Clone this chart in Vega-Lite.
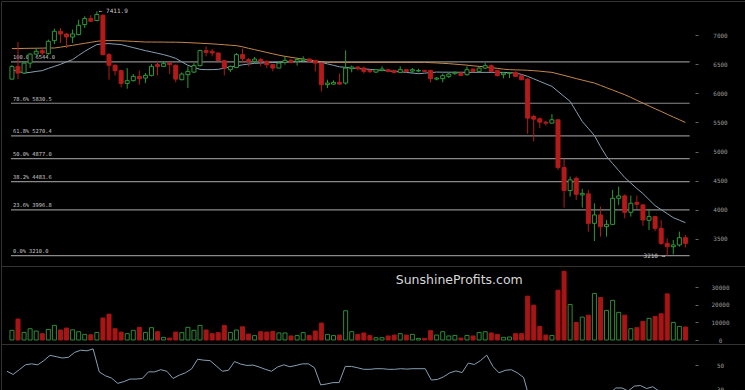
{
"$schema":"https://vega.github.io/schema/vega-lite/v6.json",
"background":"#000000",
"padding":0,
"spacing":0,
"bounds":"flush",
"config":{"view":{"stroke":"#333333","strokeWidth":1},
"axis":{"domain":false,"grid":false,"tickColor":"#666666","tickSize":3,"labelColor":"#9a9a9a","labelFont":"DejaVu Sans Mono","labelFontSize":6,"labelAlign":"center","labelBaseline":"middle","labelPadding":22,"labelOverlap":false,"labelBound":false,"labelSeparation":0,"labelFlush":false,"format":"d","title":null}},
"data":{"values":[
{"i":0,"o":6246,"h":6483,"l":6241,"c":6465,"v":5500,"m1":6409,"m2":6771,"r":45.2},
{"i":1,"o":6465,"h":6884,"l":6246,"c":6350,"v":11900,"m1":6379,"m2":6772,"r":42.6},
{"i":2,"o":6350,"h":6552,"l":6345,"c":6522,"v":4300,"m1":6350,"m2":6774,"r":46.5},
{"i":3,"o":6522,"h":6690,"l":6436,"c":6677,"v":6400,"m1":6362,"m2":6776,"r":50.5},
{"i":4,"o":6677,"h":6781,"l":6667,"c":6724,"v":5100,"m1":6379,"m2":6777,"r":51.3},
{"i":5,"o":6736,"h":6781,"l":6655,"c":6695,"v":3600,"m1":6391,"m2":6779,"r":50.5},
{"i":6,"o":6684,"h":6926,"l":6667,"c":6896,"v":6000,"m1":6431,"m2":6781,"r":54},
{"i":7,"o":6908,"h":7115,"l":6850,"c":7069,"v":8300,"m1":6465,"m2":6781,"r":58.3},
{"i":8,"o":7069,"h":7126,"l":6867,"c":7022,"v":5700,"m1":6500,"m2":6796,"r":57.2},
{"i":9,"o":7022,"h":7039,"l":6781,"c":6971,"v":6800,"m1":6543,"m2":6812,"r":56.1},
{"i":10,"o":6971,"h":7098,"l":6867,"c":7022,"v":5800,"m1":6581,"m2":6827,"r":56.7},
{"i":11,"o":7012,"h":7270,"l":7000,"c":7172,"v":4700,"m1":6655,"m2":6845,"r":60.7},
{"i":12,"o":7184,"h":7327,"l":7126,"c":7288,"v":3200,"m1":6724,"m2":6862,"r":62.5},
{"i":13,"o":7288,"h":7345,"l":7229,"c":7241,"v":3000,"m1":6784,"m2":6879,"r":62},
{"i":14,"o":7253,"h":7411.9,"l":7241,"c":7357,"v":4300,"m1":6840,"m2":6896,"r":63.6},
{"i":15,"o":7345,"h":7362,"l":6655,"c":6667,"v":12500,"m1":6853,"m2":6908,"r":44.7},
{"i":16,"o":6667,"h":6695,"l":6236,"c":6483,"v":14700,"m1":6857,"m2":6908,"r":41.5},
{"i":17,"o":6483,"h":6505,"l":6310,"c":6391,"v":6400,"m1":6848,"m2":6908,"r":39.6},
{"i":18,"o":6391,"h":6408,"l":6103,"c":6172,"v":4500,"m1":6840,"m2":6905,"r":35.3},
{"i":19,"o":6172,"h":6436,"l":6081,"c":6219,"v":3600,"m1":6814,"m2":6900,"r":36.7},
{"i":20,"o":6219,"h":6333,"l":6207,"c":6293,"v":5500,"m1":6788,"m2":6895,"r":38.8},
{"i":21,"o":6293,"h":6391,"l":6150,"c":6253,"v":7200,"m1":6762,"m2":6890,"r":38.8},
{"i":22,"o":6264,"h":6350,"l":6178,"c":6310,"v":4300,"m1":6736,"m2":6884,"r":39.3},
{"i":23,"o":6310,"h":6505,"l":6293,"c":6465,"v":7000,"m1":6714,"m2":6884,"r":44.7},
{"i":24,"o":6495,"h":6564,"l":6310,"c":6465,"v":4700,"m1":6690,"m2":6883,"r":44.7},
{"i":25,"o":6465,"h":6552,"l":6453,"c":6512,"v":1500,"m1":6667,"m2":6883,"r":46.5},
{"i":26,"o":6522,"h":6530,"l":6333,"c":6495,"v":1100,"m1":6638,"m2":6881,"r":45.2},
{"i":27,"o":6483,"h":6500,"l":6190,"c":6246,"v":4500,"m1":6603,"m2":6881,"r":39.3},
{"i":28,"o":6236,"h":6362,"l":6224,"c":6333,"v":4200,"m1":6543,"m2":6879,"r":42},
{"i":29,"o":6322,"h":6465,"l":6091,"c":6379,"v":7200,"m1":6483,"m2":6874,"r":43.9},
{"i":30,"o":6367,"h":6522,"l":6350,"c":6478,"v":5500,"m1":6448,"m2":6869,"r":47.1},
{"i":31,"o":6478,"h":6753,"l":6465,"c":6736,"v":8300,"m1":6414,"m2":6864,"r":55.1},
{"i":32,"o":6736,"h":6810,"l":6638,"c":6707,"v":5700,"m1":6409,"m2":6858,"r":54.3},
{"i":33,"o":6724,"h":6764,"l":6638,"c":6695,"v":3600,"m1":6409,"m2":6852,"r":54},
{"i":34,"o":6695,"h":6705,"l":6552,"c":6564,"v":4200,"m1":6414,"m2":6845,"r":49.7},
{"i":35,"o":6564,"h":6575,"l":6310,"c":6436,"v":8300,"m1":6434,"m2":6838,"r":45.2},
{"i":36,"o":6408,"h":6480,"l":6367,"c":6465,"v":4300,"m1":6457,"m2":6829,"r":46},
{"i":37,"o":6448,"h":6695,"l":6436,"c":6667,"v":5700,"m1":6474,"m2":6822,"r":53.2},
{"i":38,"o":6667,"h":6771,"l":6522,"c":6598,"v":7500,"m1":6491,"m2":6802,"r":51.1},
{"i":39,"o":6581,"h":6608,"l":6465,"c":6552,"v":3400,"m1":6505,"m2":6776,"r":50},
{"i":40,"o":6552,"h":6626,"l":6512,"c":6591,"v":2500,"m1":6517,"m2":6753,"r":50.3},
{"i":41,"o":6581,"h":6608,"l":6465,"c":6552,"v":4700,"m1":6522,"m2":6729,"r":48.7},
{"i":42,"o":6552,"h":6569,"l":6436,"c":6495,"v":4500,"m1":6526,"m2":6705,"r":46.8},
{"i":43,"o":6495,"h":6500,"l":6379,"c":6436,"v":4900,"m1":6531,"m2":6681,"r":45.2},
{"i":44,"o":6436,"h":6552,"l":6436,"c":6522,"v":4000,"m1":6534,"m2":6658,"r":48.7},
{"i":45,"o":6534,"h":6626,"l":6495,"c":6569,"v":4000,"m1":6540,"m2":6638,"r":50.5},
{"i":46,"o":6569,"h":6591,"l":6517,"c":6534,"v":2300,"m1":6543,"m2":6621,"r":48.9},
{"i":47,"o":6552,"h":6608,"l":6478,"c":6581,"v":2500,"m1":6548,"m2":6605,"r":50},
{"i":48,"o":6569,"h":6638,"l":6534,"c":6591,"v":4200,"m1":6552,"m2":6590,"r":51.3},
{"i":49,"o":6591,"h":6600,"l":6534,"c":6552,"v":2500,"m1":6546,"m2":6574,"r":51.3},
{"i":50,"o":6569,"h":6575,"l":6379,"c":6522,"v":5100,"m1":6540,"m2":6559,"r":48.1},
{"i":51,"o":6522,"h":6530,"l":6034,"c":6150,"v":9600,"m1":6534,"m2":6546,"r":34},
{"i":52,"o":6150,"h":6236,"l":6091,"c":6178,"v":3200,"m1":6508,"m2":6534,"r":34.8},
{"i":53,"o":6160,"h":6224,"l":6150,"c":6190,"v":2500,"m1":6483,"m2":6534,"r":35.9},
{"i":54,"o":6190,"h":6340,"l":6150,"c":6160,"v":2800,"m1":6457,"m2":6534,"r":35.9},
{"i":55,"o":6178,"h":6741,"l":6150,"c":6436,"v":16600,"m1":6448,"m2":6534,"r":49.2},
{"i":56,"o":6426,"h":6477,"l":6362,"c":6453,"v":4700,"m1":6436,"m2":6534,"r":49.2},
{"i":57,"o":6453,"h":6470,"l":6396,"c":6426,"v":3200,"m1":6427,"m2":6534,"r":48.1},
{"i":58,"o":6436,"h":6465,"l":6340,"c":6379,"v":4000,"m1":6421,"m2":6534,"r":46.8},
{"i":59,"o":6396,"h":6405,"l":6350,"c":6374,"v":2500,"m1":6414,"m2":6534,"r":46.8},
{"i":60,"o":6367,"h":6419,"l":6350,"c":6408,"v":1300,"m1":6405,"m2":6534,"r":47.3},
{"i":61,"o":6396,"h":6465,"l":6379,"c":6419,"v":1300,"m1":6396,"m2":6534,"r":47.3},
{"i":62,"o":6408,"h":6412,"l":6362,"c":6379,"v":2300,"m1":6388,"m2":6534,"r":46.8},
{"i":63,"o":6396,"h":6400,"l":6340,"c":6362,"v":2800,"m1":6379,"m2":6534,"r":46.8},
{"i":64,"o":6362,"h":6465,"l":6350,"c":6408,"v":3600,"m1":6371,"m2":6534,"r":47.3},
{"i":65,"o":6408,"h":6412,"l":6362,"c":6379,"v":2800,"m1":6362,"m2":6534,"r":47},
{"i":66,"o":6385,"h":6436,"l":6350,"c":6408,"v":3200,"m1":6350,"m2":6534,"r":47.3},
{"i":67,"o":6385,"h":6425,"l":6362,"c":6396,"v":900,"m1":6340,"m2":6534,"r":47.3},
{"i":68,"o":6396,"h":6405,"l":6370,"c":6379,"v":900,"m1":6348,"m2":6534,"r":47.3},
{"i":69,"o":6396,"h":6408,"l":6190,"c":6253,"v":5300,"m1":6359,"m2":6529,"r":38},
{"i":70,"o":6246,"h":6281,"l":6224,"c":6264,"v":2800,"m1":6367,"m2":6524,"r":38.5},
{"i":71,"o":6253,"h":6340,"l":6190,"c":6305,"v":4700,"m1":6365,"m2":6517,"r":40.7},
{"i":72,"o":6293,"h":6350,"l":6264,"c":6333,"v":2300,"m1":6365,"m2":6512,"r":43.9},
{"i":73,"o":6340,"h":6380,"l":6322,"c":6362,"v":2600,"m1":6364,"m2":6503,"r":45.5},
{"i":74,"o":6350,"h":6360,"l":6305,"c":6310,"v":1100,"m1":6364,"m2":6495,"r":44.1},
{"i":75,"o":6322,"h":6465,"l":6305,"c":6408,"v":2600,"m1":6362,"m2":6486,"r":51.9},
{"i":76,"o":6419,"h":6425,"l":6362,"c":6379,"v":2300,"m1":6362,"m2":6474,"r":50.8},
{"i":77,"o":6379,"h":6453,"l":6362,"c":6436,"v":4300,"m1":6362,"m2":6465,"r":54},
{"i":78,"o":6436,"h":6522,"l":6419,"c":6477,"v":4700,"m1":6362,"m2":6457,"r":58.5},
{"i":79,"o":6477,"h":6495,"l":6370,"c":6379,"v":4000,"m1":6362,"m2":6443,"r":49.2},
{"i":80,"o":6396,"h":6405,"l":6293,"c":6305,"v":3200,"m1":6362,"m2":6431,"r":43.9},
{"i":81,"o":6322,"h":6360,"l":6258,"c":6350,"v":1500,"m1":6362,"m2":6417,"r":46},
{"i":82,"o":6345,"h":6362,"l":6264,"c":6355,"v":1700,"m1":6357,"m2":6409,"r":46.5},
{"i":83,"o":6362,"h":6380,"l":6281,"c":6293,"v":3600,"m1":6350,"m2":6405,"r":43.9},
{"i":84,"o":6305,"h":6320,"l":6224,"c":6236,"v":3600,"m1":6327,"m2":6402,"r":40.1},
{"i":85,"o":6246,"h":6264,"l":5305,"c":5574,"v":24900,"m1":6293,"m2":6398,"r":22},
{"i":86,"o":5603,"h":5633,"l":5172,"c":5557,"v":19800,"m1":6250,"m2":6391,"r":21},
{"i":87,"o":5564,"h":5586,"l":5402,"c":5505,"v":7700,"m1":6207,"m2":6383,"r":20},
{"i":88,"o":5505,"h":5529,"l":5448,"c":5488,"v":2800,"m1":6164,"m2":6372,"r":19},
{"i":89,"o":5488,"h":5643,"l":5480,"c":5546,"v":2600,"m1":6121,"m2":6362,"r":21},
{"i":90,"o":5546,"h":5550,"l":4685,"c":4724,"v":28300,"m1":6034,"m2":6336,"r":16},
{"i":91,"o":4724,"h":4874,"l":4035,"c":4328,"v":39000,"m1":5948,"m2":6310,"r":13},
{"i":92,"o":4328,"h":4569,"l":4224,"c":4512,"v":20200,"m1":5862,"m2":6283,"r":18},
{"i":93,"o":4540,"h":4569,"l":4167,"c":4264,"v":10000,"m1":5690,"m2":6255,"r":17},
{"i":94,"o":4254,"h":4357,"l":4035,"c":4281,"v":13000,"m1":5517,"m2":6229,"r":19},
{"i":95,"o":4271,"h":4340,"l":3621,"c":3764,"v":14100,"m1":5397,"m2":6203,"r":18},
{"i":96,"o":3764,"h":4109,"l":3460,"c":3909,"v":26400,"m1":5276,"m2":6178,"r":25},
{"i":97,"o":3909,"h":4052,"l":3535,"c":3707,"v":24200,"m1":5086,"m2":6138,"r":23},
{"i":98,"o":3707,"h":3822,"l":3535,"c":3747,"v":16800,"m1":4914,"m2":6098,"r":27},
{"i":99,"o":3747,"h":4340,"l":3740,"c":4195,"v":22500,"m1":4793,"m2":6059,"r":31.5},
{"i":100,"o":4195,"h":4397,"l":4081,"c":4236,"v":15700,"m1":4672,"m2":6017,"r":31.5},
{"i":101,"o":4236,"h":4264,"l":3850,"c":3954,"v":14100,"m1":4552,"m2":5978,"r":29},
{"i":102,"o":3954,"h":4241,"l":3880,"c":4109,"v":6400,"m1":4457,"m2":5931,"r":33},
{"i":103,"o":4126,"h":4241,"l":4012,"c":4092,"v":7000,"m1":4362,"m2":5881,"r":33.5},
{"i":104,"o":4081,"h":4092,"l":3724,"c":3822,"v":10600,"m1":4276,"m2":5833,"r":31},
{"i":105,"o":3816,"h":4012,"l":3650,"c":3880,"v":12300,"m1":4172,"m2":5784,"r":32.5},
{"i":106,"o":3880,"h":3890,"l":3633,"c":3678,"v":13400,"m1":4069,"m2":5736,"r":29},
{"i":107,"o":3678,"h":3822,"l":3392,"c":3419,"v":14900,"m1":4000,"m2":5690,"r":26},
{"i":108,"o":3419,"h":3505,"l":3210,"c":3362,"v":26200,"m1":3931,"m2":5641,"r":23},
{"i":109,"o":3362,"h":3478,"l":3230,"c":3392,"v":10000,"m1":3862,"m2":5593,"r":25},
{"i":110,"o":3392,"h":3621,"l":3362,"c":3517,"v":7700,"m1":3819,"m2":5547,"r":28},
{"i":111,"o":3517,"h":3564,"l":3350,"c":3419,"v":7400,"m1":3776,"m2":5500,"r":26}
]},
"vconcat":[
{"width":745,"height":265,
"layer":[
{"data":{"values":[{"p":6544.0,"t":"100.0% 6544.0"},{"p":5830.5,"t":"78.6% 5830.5"},{"p":5270.4,"t":"61.8% 5270.4"},{"p":4877.0,"t":"50.0% 4877.0"},{"p":4483.6,"t":"38.2% 4483.6"},{"p":3996.8,"t":"23.6% 3996.8"},{"p":3210.0,"t":"0.0% 3210.0"}]},
"mark":{"type":"rule","color":"#8a8a8a","strokeWidth":1.2},
"encoding":{"x":{"datum":-0.16,"type":"quantitative","scale":{"domain":[-0.976,120.16],"nice":false,"zero":false},"axis":null},
"x2":{"datum":111.7},
"y":{"field":"p","type":"quantitative","scale":{"domain":[3030,7590],"nice":false,"zero":false},"axis":{"orient":"right","offset":-51,"values":[3500,4000,4500,5000,5500,6000,6500,7000]}}}},
{"data":{"values":[{"p":6544.0,"t":"100.0% 6544.0"},{"p":5830.5,"t":"78.6% 5830.5"},{"p":5270.4,"t":"61.8% 5270.4"},{"p":4877.0,"t":"50.0% 4877.0"},{"p":4483.6,"t":"38.2% 4483.6"},{"p":3996.8,"t":"23.6% 3996.8"},{"p":3210.0,"t":"0.0% 3210.0"}]},
"mark":{"type":"text","align":"left","baseline":"alphabetic","dy":-2.5,"font":"DejaVu Sans Mono","fontSize":5.4,"color":"#c8c8c8"},
"encoding":{"x":{"datum":0.16,"type":"quantitative","axis":null},"y":{"field":"p","type":"quantitative","axis":{"orient":"right","offset":-51,"values":[3500,4000,4500,5000,5500,6000,6500,7000]}},"text":{"field":"t"}}},
{"mark":{"type":"line","color":"#c4884c","strokeWidth":1},
"encoding":{"x":{"field":"i","type":"quantitative","axis":null},"y":{"field":"m2","type":"quantitative","axis":{"orient":"right","offset":-51,"values":[3500,4000,4500,5000,5500,6000,6500,7000]}}}},
{"mark":{"type":"line","color":"#86a0b4","strokeWidth":1},
"encoding":{"x":{"field":"i","type":"quantitative","axis":null},"y":{"field":"m1","type":"quantitative","axis":{"orient":"right","offset":-51,"values":[3500,4000,4500,5000,5500,6000,6500,7000]}}}},
{"mark":{"type":"rule","strokeWidth":1},
"encoding":{"x":{"field":"i","type":"quantitative","axis":null},"y":{"field":"l","type":"quantitative","axis":{"orient":"right","offset":-51,"values":[3500,4000,4500,5000,5500,6000,6500,7000]}},"y2":{"field":"h"},
"color":{"condition":{"test":"datum.c >= datum.o","value":"#2e9a3a"},"value":"#b31b1b"}}},
{"mark":{"type":"bar","size":4,"strokeWidth":1},
"encoding":{"x":{"field":"i","type":"quantitative","axis":null},"y":{"field":"o","type":"quantitative","axis":{"orient":"right","offset":-51,"values":[3500,4000,4500,5000,5500,6000,6500,7000]}},"y2":{"field":"c"},
"fill":{"condition":{"test":"datum.c >= datum.o","value":"#000000"},"value":"#b31b1b"},
"stroke":{"condition":{"test":"datum.c >= datum.o","value":"#2e9a3a"},"value":"#b31b1b"}}},
{"data":{"values":[{"i":14,"p":7411.9,"t":"← 7411.9"}]},
"mark":{"type":"text","align":"left","baseline":"middle","dx":2,"font":"DejaVu Sans Mono","fontSize":6,"color":"#cccccc"},
"encoding":{"x":{"field":"i","type":"quantitative","axis":null},"y":{"field":"p","type":"quantitative","axis":{"orient":"right","offset":-51,"values":[3500,4000,4500,5000,5500,6000,6500,7000]}},"text":{"field":"t"}}},
{"data":{"values":[{"i":108,"p":3210,"t":"3210 →"}]},
"mark":{"type":"text","align":"right","baseline":"middle","dx":-2,"font":"DejaVu Sans Mono","fontSize":6,"color":"#cccccc"},
"encoding":{"x":{"field":"i","type":"quantitative","axis":null},"y":{"field":"p","type":"quantitative","axis":{"orient":"right","offset":-51,"values":[3500,4000,4500,5000,5500,6000,6500,7000]}},"text":{"field":"t"}}}
]},
{"width":745,"height":78,
"layer":[
{"mark":{"type":"bar","size":4,"strokeWidth":1},
"encoding":{"x":{"field":"i","type":"quantitative","scale":{"domain":[-0.976,120.16],"nice":false,"zero":false},"axis":null},
"y":{"field":"v","type":"quantitative","scale":{"domain":[-2270,42045],"nice":false,"zero":false},"axis":{"orient":"right","offset":-51,"values":[0,10000,20000,30000]}},
"y2":{"datum":0},
"fill":{"condition":{"test":"datum.c >= datum.o","value":"#000000"},"value":"#a81515"},
"stroke":{"condition":{"test":"datum.c >= datum.o","value":"#2e8b37"},"value":"#a81515"}}},
{"data":{"values":[{"t":"SunshineProfits.com"}]},
"mark":{"type":"text","align":"left","baseline":"middle","font":"DejaVu Sans","fontSize":12.5,"color":"#d8d8d8"},
"encoding":{"x":{"datum":63.25,"type":"quantitative","axis":null},"y":{"datum":34000,"type":"quantitative","axis":{"orient":"right","offset":-51,"values":[0,10000,20000,30000]}},"text":{"field":"t"}}}
]},
{"width":745,"height":47,
"mark":{"type":"line","color":"#86a0b4","strokeWidth":1,"clip":true},
"encoding":{"x":{"field":"i","type":"quantitative","scale":{"domain":[-0.976,120.16],"nice":false,"zero":false},"axis":null},
"y":{"field":"r","type":"quantitative","scale":{"domain":[29,67.6],"nice":false,"zero":false},"axis":{"orient":"right","offset":-51,"values":[30,50]}}}}
]
}
